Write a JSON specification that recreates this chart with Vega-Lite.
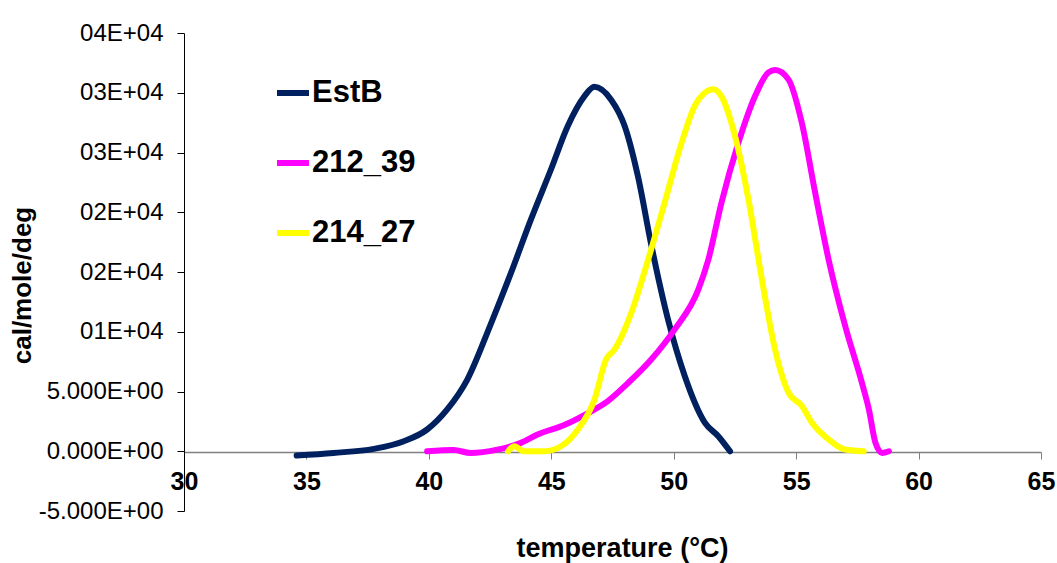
{
  "$schema": "https://vega.github.io/schema/vega-lite/v6.json",
  "width": 857,
  "height": 478,
  "autosize": {"type": "none"},
  "padding": {"left": 184, "top": 33, "right": 16, "bottom": 52},
  "background": "white",
  "config": {
    "view": {"stroke": null},
    "font": "Liberation Sans",
    "axis": {"grid": false}
  },
  "data": {
    "values": [
      {"series": "EstB", "t": 34.6, "cp": -360},
      {"series": "EstB", "t": 36.1, "cp": -140},
      {"series": "EstB", "t": 37.75, "cp": 200},
      {"series": "EstB", "t": 38.98, "cp": 840},
      {"series": "EstB", "t": 39.93, "cp": 1820},
      {"series": "EstB", "t": 40.75, "cp": 3500},
      {"series": "EstB", "t": 41.57, "cp": 6000},
      {"series": "EstB", "t": 42.5, "cp": 10500},
      {"series": "EstB", "t": 43.35, "cp": 14900},
      {"series": "EstB", "t": 44.17, "cp": 19400},
      {"series": "EstB", "t": 44.99, "cp": 23600},
      {"series": "EstB", "t": 45.67, "cp": 27200},
      {"series": "EstB", "t": 46.35, "cp": 29700},
      {"series": "EstB", "t": 46.76, "cp": 30500},
      {"series": "EstB", "t": 47.45, "cp": 29400},
      {"series": "EstB", "t": 48.0, "cp": 27200},
      {"series": "EstB", "t": 48.54, "cp": 23000},
      {"series": "EstB", "t": 49.09, "cp": 17200},
      {"series": "EstB", "t": 49.77, "cp": 11000},
      {"series": "EstB", "t": 50.45, "cp": 6300},
      {"series": "EstB", "t": 51.27, "cp": 2400},
      {"series": "EstB", "t": 51.82, "cp": 1260},
      {"series": "EstB", "t": 52.3, "cp": 0},
      {"series": "212_39", "t": 39.93, "cp": 0},
      {"series": "212_39", "t": 41.02, "cp": 100},
      {"series": "212_39", "t": 41.7, "cp": -140},
      {"series": "212_39", "t": 42.8, "cp": 140},
      {"series": "212_39", "t": 43.76, "cp": 700},
      {"series": "212_39", "t": 44.44, "cp": 1400},
      {"series": "212_39", "t": 45.53, "cp": 2200},
      {"series": "212_39", "t": 46.5, "cp": 3200},
      {"series": "212_39", "t": 47.31, "cp": 4200},
      {"series": "212_39", "t": 48.13, "cp": 5700},
      {"series": "212_39", "t": 49.09, "cp": 7700},
      {"series": "212_39", "t": 50.04, "cp": 10200},
      {"series": "212_39", "t": 51.0, "cp": 13500},
      {"series": "212_39", "t": 51.41, "cp": 16000},
      {"series": "212_39", "t": 51.95, "cp": 20800},
      {"series": "212_39", "t": 52.64, "cp": 25800},
      {"series": "212_39", "t": 53.32, "cp": 29700},
      {"series": "212_39", "t": 53.87, "cp": 31700},
      {"series": "212_39", "t": 54.14, "cp": 31900},
      {"series": "212_39", "t": 54.69, "cp": 31100},
      {"series": "212_39", "t": 55.23, "cp": 27500},
      {"series": "212_39", "t": 55.78, "cp": 21600},
      {"series": "212_39", "t": 56.33, "cp": 16000},
      {"series": "212_39", "t": 57.0, "cp": 10500},
      {"series": "212_39", "t": 57.69, "cp": 5700},
      {"series": "212_39", "t": 57.97, "cp": 3500},
      {"series": "212_39", "t": 58.24, "cp": 700},
      {"series": "212_39", "t": 58.51, "cp": -140},
      {"series": "212_39", "t": 58.79, "cp": 0},
      {"series": "214_27", "t": 43.24, "cp": 0},
      {"series": "214_27", "t": 43.48, "cp": 420},
      {"series": "214_27", "t": 43.89, "cp": 0},
      {"series": "214_27", "t": 44.71, "cp": 0},
      {"series": "214_27", "t": 45.4, "cp": 420},
      {"series": "214_27", "t": 46.08, "cp": 1800},
      {"series": "214_27", "t": 46.76, "cp": 4300},
      {"series": "214_27", "t": 47.24, "cp": 7700},
      {"series": "214_27", "t": 47.58, "cp": 8500},
      {"series": "214_27", "t": 48.27, "cp": 11600},
      {"series": "214_27", "t": 48.95, "cp": 16000},
      {"series": "214_27", "t": 49.63, "cp": 20800},
      {"series": "214_27", "t": 50.32, "cp": 25800},
      {"series": "214_27", "t": 50.86, "cp": 28900},
      {"series": "214_27", "t": 51.27, "cp": 30000},
      {"series": "214_27", "t": 51.61, "cp": 30300},
      {"series": "214_27", "t": 51.95, "cp": 29700},
      {"series": "214_27", "t": 52.5, "cp": 26400},
      {"series": "214_27", "t": 53.05, "cp": 21100},
      {"series": "214_27", "t": 53.6, "cp": 14400},
      {"series": "214_27", "t": 54.14, "cp": 8500},
      {"series": "214_27", "t": 54.69, "cp": 4900},
      {"series": "214_27", "t": 55.23, "cp": 3800},
      {"series": "214_27", "t": 55.64, "cp": 2400},
      {"series": "214_27", "t": 56.33, "cp": 980},
      {"series": "214_27", "t": 57.0, "cp": 140},
      {"series": "214_27", "t": 57.76, "cp": 0}
    ]
  },
  "mark": {"type": "line", "strokeWidth": 6, "strokeCap": "round", "strokeJoin": "round", "interpolate": "monotone", "clip": false},
  "encoding": {
    "x": {
      "field": "t", "type": "quantitative",
      "scale": {"domain": [30, 65], "nice": false, "zero": false},
      "axis": {
        "values": [30, 35, 40, 45, 50, 55, 60, 65],
        "offset": -59,
        "domainColor": "#808080", "domainWidth": 1.5,
        "tickColor": "#808080", "tickSize": 7, "tickWidth": 1,
        "labelFont": "Liberation Sans", "labelFontWeight": "bold", "labelFontSize": 25, "labelColor": "black",
        "labelPadding": 10, "labelFlush": false, "labelOverlap": false,
        "title": "temperature (°C)",
        "titleFont": "Liberation Sans", "titleFontWeight": "bold", "titleFontSize": 27, "titleColor": "black",
        "titleX": 438, "titleY": 96, "titleBaseline": "middle", "titleAlign": "center"
      }
    },
    "y": {
      "field": "cp", "type": "quantitative",
      "scale": {"domain": [-5000, 35000], "nice": false, "zero": false},
      "axis": {
        "values": [-5000, 0, 5000, 10000, 15000, 20000, 25000, 30000, 35000],
        "labelExpr": "datum.value == -5000 ? '-5.000E+00' : datum.value == 0 ? '0.000E+00' : datum.value == 5000 ? '5.000E+00' : datum.value <= 10000 ? '01E+04' : datum.value <= 20000 ? '02E+04' : datum.value <= 30000 ? '03E+04' : '04E+04'",
        "domainColor": "black", "domainWidth": 1,
        "tickColor": "black", "tickSize": 7, "tickWidth": 1,
        "labelFont": "Liberation Sans", "labelFontSize": 24, "labelColor": "black",
        "labelPadding": 14, "labelOverlap": false, "labelFlush": false,
        "title": "cal/mole/deg",
        "titleFont": "Liberation Sans", "titleFontWeight": "bold", "titleFontSize": 26, "titleColor": "black",
        "titleX": -162, "titleY": 252, "titleAngle": -90, "titleBaseline": "middle", "titleAlign": "center"
      }
    },
    "color": {
      "field": "series", "type": "nominal",
      "scale": {"domain": ["EstB", "212_39", "214_27"], "range": ["#002060", "#FF00FF", "#FFFF00"]},
      "legend": {
        "orient": "none", "legendX": 90, "legendY": 41,
        "title": null, "padding": 0,
        "symbolType": "stroke", "symbolSize": 1024, "symbolStrokeWidth": 6,
        "labelFont": "Liberation Sans", "labelFontWeight": "bold", "labelFontSize": 31, "labelColor": "black",
        "labelOffset": 0, "rowPadding": 36
      }
    }
  }
}
